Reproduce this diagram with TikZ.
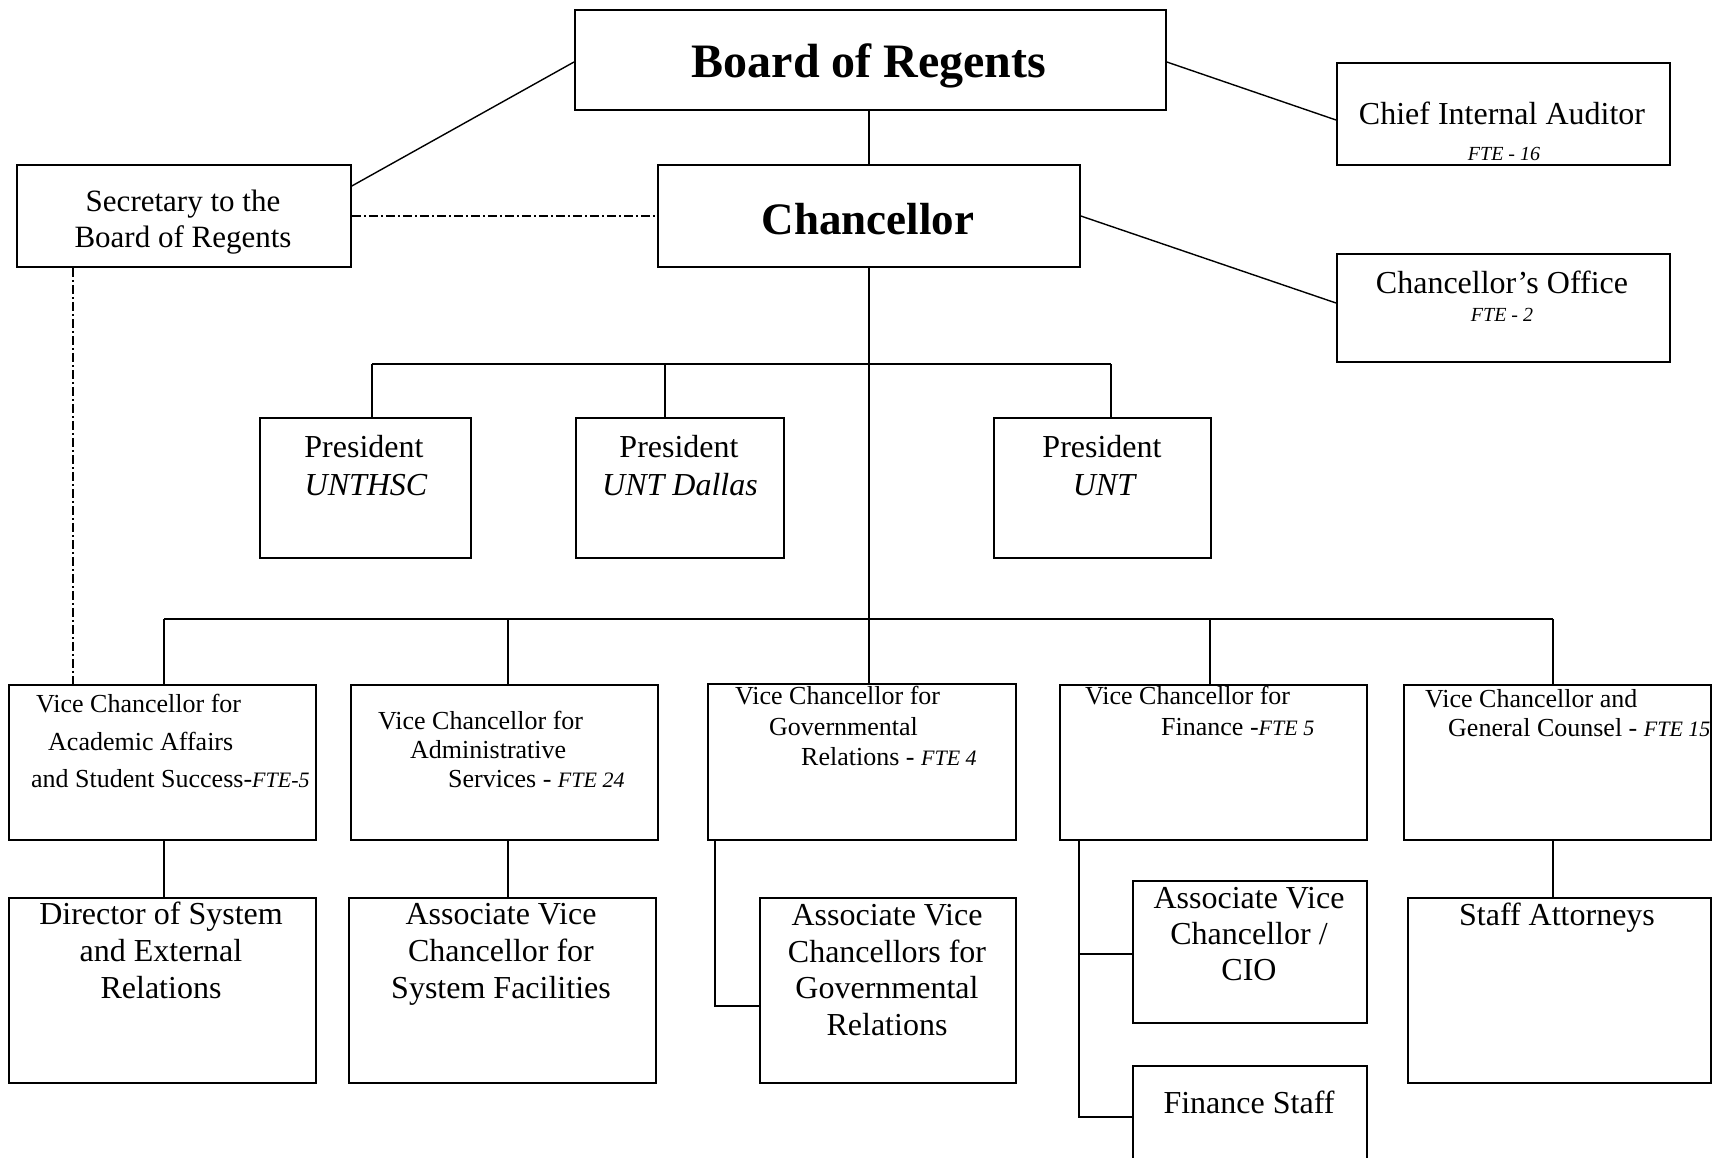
\documentclass[tikz,border=0pt]{standalone}
\usepackage{fontspec}
\setmainfont{Liberation Serif}
\newcommand{\fsz}[2]{\fontsize{#1}{#2}\selectfont}
\tikzset{
  box/.style={draw, line width=1.8pt, inner sep=0pt, anchor=north west},
  conn/.style={line width=1.4pt},
  dashdot/.style={line width=1.1pt, dash pattern=on 9pt off 3pt on 2pt off 3pt},
  txt/.style={inner sep=0pt, anchor=base},
  txtl/.style={inner sep=0pt, anchor=base west},
  big/.style={font=\fsz{32}{37}},
  vct/.style={font=\fsz{26}{30}},
}
\newcommand{\fte}[1]{{\fsz{22}{26}\itshape #1}}
\begin{document}
\begin{tikzpicture}[x=1pt,y=-1pt]
\clip (0,0) rectangle (1721,1158);
\fill[white] (0,0) rectangle (1721,1158);
% boxes
\node[box, minimum width=591pt, minimum height=100pt] (board) at (574,9) {};
\node[box, minimum width=334pt, minimum height=102pt] (sec) at (16,164) {};
\node[box, minimum width=422pt, minimum height=102pt] (chan) at (657,164) {};
\node[box, minimum width=333pt, minimum height=102pt] (chief) at (1336,62) {};
\node[box, minimum width=333pt, minimum height=108pt] (office) at (1336,253) {};
\node[box, minimum width=211pt, minimum height=140pt] (p1) at (259,417) {};
\node[box, minimum width=208pt, minimum height=140pt] (p2) at (575,417) {};
\node[box, minimum width=217pt, minimum height=140pt] (p3) at (993,417) {};
\node[box, minimum width=307pt, minimum height=155pt] (vc1) at (8,684) {};
\node[box, minimum width=307pt, minimum height=155pt] (vc2) at (350,684) {};
\node[box, minimum width=308pt, minimum height=156pt] (vc3) at (707,683) {};
\node[box, minimum width=307pt, minimum height=155pt] (vc4) at (1059,684) {};
\node[box, minimum width=307pt, minimum height=155pt] (vc5) at (1403,684) {};
\node[box, minimum width=307pt, minimum height=185pt] (d1) at (8,897) {};
\node[box, minimum width=307pt, minimum height=185pt] (d2) at (348,897) {};
\node[box, minimum width=256pt, minimum height=185pt] (d3) at (759,897) {};
\node[box, minimum width=234pt, minimum height=142pt] (cio) at (1132,880) {};
\node[box, minimum width=234pt, minimum height=100pt] (fs) at (1132,1065) {};
\node[box, minimum width=303pt, minimum height=185pt] (sa) at (1407,897) {};
% texts
\node[txt, font=\fsz{48}{56}\bfseries] (tboard) at (869,78) {Board of Regents};
\node[txt, font=\fsz{45}{52}\bfseries] (tchan) at (868,235) {Chancellor};
\node[txt, font=\fsz{31}{36}] (tsec1) at (183,212) {Secretary to the};
\node[txt, font=\fsz{31}{36}] (tsec2) at (183,248) {Board of Regents};
\node[txt, big] (tchief) at (1502,125) {Chief Internal Auditor};
\node[txt, font=\fsz{20}{24}\itshape] (tchief2) at (1504,161) {FTE - 16};
\node[txt, big] (toff) at (1502,294) {Chancellor’s Office};
\node[txt, font=\fsz{20}{24}\itshape] (toff2) at (1502,321) {FTE - 2};
\node[txt, big] (tp1a) at (364,457) {President};
\node[txt, big, font=\fsz{32}{37}\itshape] (tp1b) at (366,495) {UNTHSC};
\node[txt, big] (tp2a) at (679,457) {President};
\node[txt, big, font=\fsz{32}{37}\itshape] (tp2b) at (680,495) {UNT Dallas};
\node[txt, big] (tp3a) at (1102,457) {President};
\node[txt, big, font=\fsz{32}{37}\itshape] (tp3b) at (1104,495) {UNT};
% VC texts
\node[txtl, vct] (v1a) at (36,712) {Vice Chancellor for};
\node[txtl, vct] (v1b) at (48,750) {Academic Affairs};
\node[txtl, vct] (v1c) at (31,787) {and Student Success-\fte{FTE-5}};
\node[txtl, vct] (v2a) at (378,729) {Vice Chancellor for};
\node[txtl, vct] (v2b) at (410,758) {Administrative};
\node[txtl, vct] (v2c) at (448,787) {Services - \fte{FTE 24}};
\node[txtl, vct] (v3a) at (735,704) {Vice Chancellor for};
\node[txtl, vct] (v3b) at (769,735) {Governmental};
\node[txtl, vct] (v3c) at (801,765) {Relations - \fte{FTE 4}};
\node[txtl, vct] (v4a) at (1085,704) {Vice Chancellor for};
\node[txtl, vct] (v4b) at (1161,735) {Finance -\fte{FTE 5}};
\node[txtl, vct] (v5a) at (1425,707) {Vice Chancellor and};
\node[txtl, vct] (v5b) at (1448,736) {General Counsel - \fte{FTE 15}};
% bottom texts
\node[txt, big] (d1a) at (161,924) {Director of System};
\node[txt, big] (d1b) at (161,961) {and External};
\node[txt, big] (d1c) at (161,998) {Relations};
\node[txt, big] (d2a) at (501,924) {Associate Vice};
\node[txt, big] (d2b) at (501,961) {Chancellor for};
\node[txt, big] (d2c) at (501,998) {System Facilities};
\node[txt, big] (d3a) at (887,925) {Associate Vice};
\node[txt, big] (d3b) at (887,962) {Chancellors for};
\node[txt, big] (d3c) at (887,998) {Governmental};
\node[txt, big] (d3d) at (887,1035) {Relations};
\node[txt, big] (cioa) at (1249,908) {Associate Vice};
\node[txt, big] (ciob) at (1249,944) {Chancellor /};
\node[txt, big] (cioc) at (1249,980) {CIO};
\node[txt, big] (fsa) at (1249,1113) {Finance Staff};
\node[txt, big] (saa) at (1557,925) {Staff Attorneys};
% connectors
\draw[conn] (board.south -| chan.north) -- (chan.north);
\draw[conn] ([yshift=-53pt]board.north west) -- ([yshift=-22pt]sec.north east);
\draw[conn] ([yshift=-53pt]board.north east) -- ([yshift=-58pt]chief.north west);
\draw[conn] ([yshift=-52pt]chan.north east) -- ([yshift=-50pt]office.north west);
\draw[dashdot] ([yshift=-52pt]sec.north east) -- ([yshift=-52pt]chan.north west);
\draw[dashdot] ([xshift=57pt]sec.south west) -- ([xshift=57pt]sec.south west |- vc1.north);
\draw[conn] (chan.south) -- (chan.south |- vc3.north);
% presidents bus
\coordinate (pbL) at (372,364);
\coordinate (pbM) at (665,364);
\coordinate (pbR) at (1111,364);
\draw[conn] (pbL) -- (pbR);
\draw[conn] (pbL) -- (pbL |- p1.north);
\draw[conn] (pbM) -- (pbM |- p2.north);
\draw[conn] (pbR) -- (pbR |- p3.north);
% VC bus
\coordinate (vbL) at (164,619);
\coordinate (vb2) at (508,619);
\coordinate (vb4) at (1210,619);
\coordinate (vbR) at (1553,619);
\draw[conn] (vbL) -- (vbR);
\draw[conn] (vbL) -- (vbL |- vc1.north);
\draw[conn] (vb2) -- (vb2 |- vc2.north);
\draw[conn] (vb4) -- (vb4 |- vc4.north);
\draw[conn] (vbR) -- (vbR |- vc5.north);
% sub connections
\draw[conn] (vbL |- vc1.south) -- (vbL |- d1.north);
\draw[conn] (vb2 |- vc2.south) -- (vb2 |- d2.north);
\draw[conn] (vbR |- vc5.south) -- (vbR |- sa.north);
\coordinate (gx) at (715,1006);
\draw[conn] (gx |- vc3.south) -- (gx) -- (gx -| d3.west);
\coordinate (fx) at (1079,954);
\draw[conn] (fx |- vc4.south) -- ([yshift=-52pt]fx |- fs.north) -- ([yshift=-52pt]fs.north west);
\draw[conn] (fx) -- (fx -| cio.west);
\end{tikzpicture}
\end{document}
